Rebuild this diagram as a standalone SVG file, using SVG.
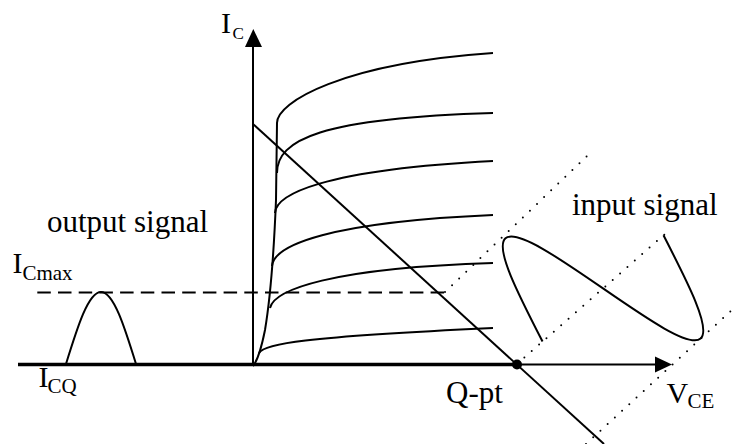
<svg xmlns="http://www.w3.org/2000/svg" width="737" height="444" viewBox="0 0 737 444">
<defs>
<style>
.ln{fill:none;stroke:#000;stroke-width:2;stroke-linecap:butt}
.dot{fill:none;stroke:#000;stroke-width:2;stroke-linecap:round;stroke-dasharray:0 9.8}
.big{font-size:31px}
.mid{font-size:30px}
.sub{font-size:21px}
</style>
</defs>
<rect width="737" height="444" fill="#fff"/>
<g id="axes">
<line class="ln" x1="253" y1="366" x2="253" y2="45"/>
<polygon points="253.3,29 245,47 262,47" fill="#000"/>
<line x1="18" y1="364.5" x2="517" y2="364.5" stroke="#000" stroke-width="3.5"/>
<line class="ln" x1="517" y1="364.5" x2="658" y2="364.5"/>
<polygon points="672,364.5 655,356.5 655,372.5" fill="#000"/>
</g>
<g id="characteristic-curves">
<path class="ln" d="M253 366 C258 360 262 345 265 330 C270 300 274 250 276 200 L277 123"/>
<path class="ln" d="M277 123 C277 102 341.8 63.5 493 53"/>
<path class="ln" d="M277 173 C277 140 320 118 493 113"/>
<path class="ln" d="M275 213 C276 195 320 170 493 161"/>
<path class="ln" d="M272 266 C274 245 330 222 493 215"/>
<path class="ln" d="M270 308 C274 290 330 268 493 263"/>
<path class="ln" d="M259 353 C264 344 300 337 493 328"/>
</g>
<g id="load-line">
<line class="ln" x1="253" y1="124" x2="604" y2="444"/>
<circle cx="517" cy="364.5" r="5" fill="#000"/>
</g>
<g id="icmax-line">
<line class="ln" x1="37.3" y1="292.5" x2="445" y2="292.5" stroke-dasharray="13.5 7.2"/>
</g>
<g id="input-axes">
<line class="dot" x1="445" y1="292" x2="587" y2="156"/>
<line class="dot" x1="517" y1="364" x2="665" y2="234"/>
<line class="dot" x1="586" y1="444" x2="734" y2="308"/>
</g>
<g id="input-signal" transform="translate(517,364) rotate(-41.3)">
<path class="ln" d="M34 0 C47.13 -52.25 59.68 -102 74.25 -102 S101.37 -52.25 114.5 0 S140.18 102 154.75 102 S181.87 52.25 195 0"/>
</g>
<g id="output-signal">
<path class="ln" d="M66 364 C77.41 327.1 88.33 292 101 292 S124.59 327.1 136 364"/>
</g>
<g id="labels" font-family="Liberation Serif, serif" fill="#000">
<text class="mid" x="221" y="33">I</text>
<text font-size="17" x="232.5" y="39">C</text>
<text class="big" x="47" y="232">output signal</text>
<text class="mid" x="12.5" y="273">I</text>
<text class="sub" x="22.4" y="280">Cmax</text>
<text class="mid" x="38.5" y="387">I</text>
<text class="sub" x="47.5" y="393">CQ</text>
<text class="big" x="446" y="403">Q-pt</text>
<text class="mid" x="666.5" y="403">V</text>
<text class="sub" x="687.5" y="408">CE</text>
<text class="big" x="572" y="215">input signal</text>
</g>
</svg>
